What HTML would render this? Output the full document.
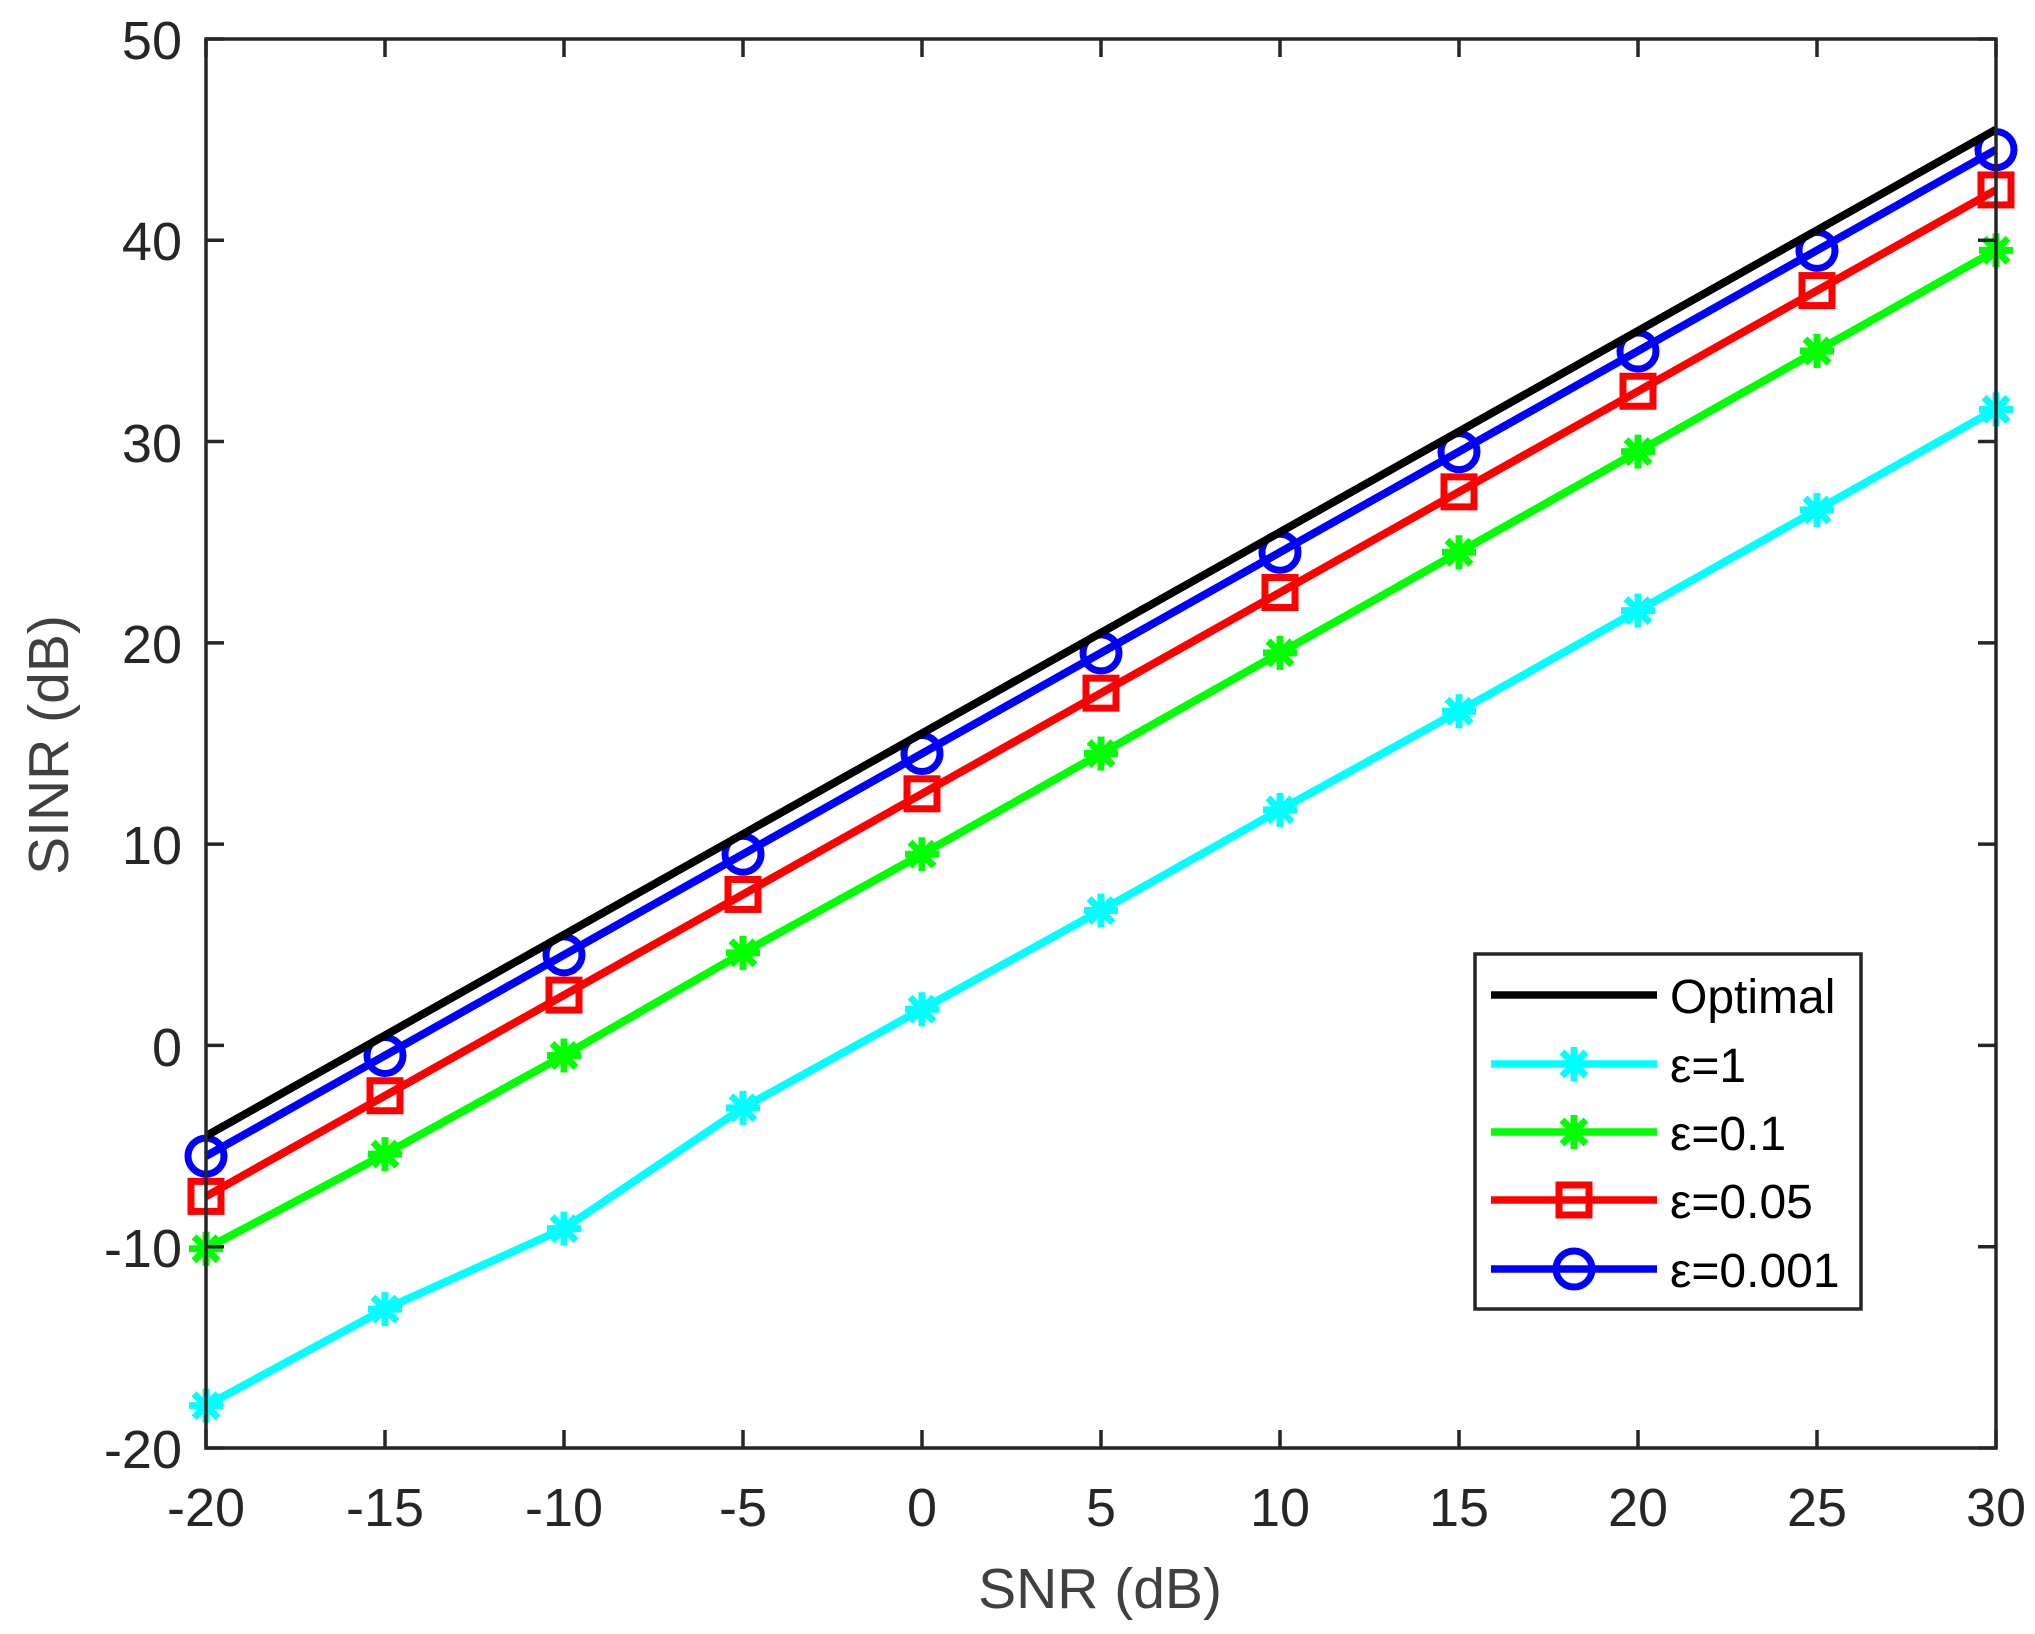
<!DOCTYPE html>
<html><head><meta charset="utf-8"><style>
html,body{margin:0;padding:0;background:#fff;}
svg{display:block;font-family:"Liberation Sans",Arial,sans-serif;}
</style></head><body>
<svg id="s" width="2035" height="1634" xmlns="http://www.w3.org/2000/svg">
<rect width="2035" height="1634" fill="#fff"/>
<g id="plot"></g>
<rect x="206" y="39" width="1790" height="1409" fill="none" stroke="#262626" stroke-width="3.5"/>
<g id="ticks" stroke="#262626" stroke-width="3.5"></g>
<g fill="#262626" font-size="54" text-anchor="end">
<text x="182" y="59">50</text><text x="182" y="260">40</text><text x="182" y="462">30</text><text x="182" y="663">20</text><text x="182" y="864">10</text><text x="182" y="1066">0</text><text x="182" y="1267">-10</text><text x="182" y="1468">-20</text>
</g>
<g fill="#262626" font-size="54" text-anchor="middle">
<text x="206" y="1526">-20</text><text x="385" y="1526">-15</text><text x="564" y="1526">-10</text><text x="743" y="1526">-5</text><text x="922" y="1526">0</text><text x="1101" y="1526">5</text><text x="1280" y="1526">10</text><text x="1459" y="1526">15</text><text x="1638" y="1526">20</text><text x="1817" y="1526">25</text><text x="1996" y="1526">30</text>
</g>
<text x="1100" y="1608" font-size="57" fill="#404040" text-anchor="middle">SNR (dB)</text>
<text transform="translate(68,745) rotate(-90)" font-size="57" fill="#404040" text-anchor="middle">SINR (dB)</text>
<rect x="1475" y="954" width="386" height="355" fill="#fff" stroke="#262626" stroke-width="3.5"/>
<g id="leg"></g>
<g font-size="48" fill="#000">
<text x="1670" y="1013">Optimal</text>
<text x="1670" y="1082">ε=1</text>
<text x="1670" y="1150">ε=0.1</text>
<text x="1670" y="1218">ε=0.05</text>
<text x="1670" y="1287">ε=0.001</text>
</g>
</svg>
<script>
const NS="http://www.w3.org/2000/svg";
const X=v=>206+(v+20)*35.8, Y=v=>1448-(v+20)*20.129;
function el(p,t,a){const e=document.createElementNS(NS,t);for(const k in a)e.setAttribute(k,a[k]);p.appendChild(e);return e;}
const tk=document.getElementById('ticks');
for(let v=-20;v<=30;v+=5){const x=X(v);el(tk,'line',{x1:x,y1:1448,x2:x,y2:1430});el(tk,'line',{x1:x,y1:39,x2:x,y2:57});}
for(let v=-20;v<=50;v+=10){const y=Y(v);el(tk,'line',{x1:206,y1:y,x2:224,y2:y});el(tk,'line',{x1:1996,y1:y,x2:1978,y2:y});}
function marker(g,type,x,y,c){
 if(type==='*'){const r=17,d=12;
  [[0,-r,0,r],[-r,0,r,0],[-d,-d,d,d],[-d,d,d,-d]].forEach(l=>el(g,'line',{x1:x+l[0],y1:y+l[1],x2:x+l[2],y2:y+l[3],stroke:c,'stroke-width':7}));}
 else if(type==='s'){el(g,'rect',{x:x-15,y:y-15,width:30,height:30,fill:'none',stroke:c,'stroke-width':7});}
 else if(type==='o'){el(g,'circle',{cx:x,cy:y,r:18,fill:'none',stroke:c,'stroke-width':7});}
}
const xs=[-20,-15,-10,-5,0,5,10,15,20,25,30];
const series=[
 {c:'#000',m:null,y:xs.map(v=>v+15.5)},
 {c:'#00FFFF',m:'*',y:[-17.9,-13.1,-9.1,-3.1,1.8,6.7,11.7,16.6,21.6,26.6,31.6]},
 {c:'#00FF00',m:'*',y:[-10.1,-5.4,-0.5,4.6,9.5,14.5,19.5,24.5,29.5,34.5,39.5]},
 {c:'#FF0000',m:'s',y:xs.map(v=>v+12.5)},
 {c:'#0000FF',m:'o',y:xs.map(v=>v+14.5)}
];
const plot=document.getElementById('plot');
series.slice().reverse().forEach(s=>{
 el(plot,'polyline',{points:xs.map((v,i)=>X(v)+','+Y(s.y[i])).join(' '),fill:'none',stroke:s.c,'stroke-width':8,'stroke-linejoin':'round'});
 if(s.m)xs.forEach((v,i)=>marker(plot,s.m,X(v),Y(s.y[i]),s.c));
});
const leg=document.getElementById('leg');
const ly=[995,1064,1132,1200,1269];
series.forEach((s,i)=>{el(leg,'line',{x1:1491,y1:ly[i],x2:1657,y2:ly[i],stroke:s.c,'stroke-width':7.5});if(s.m)marker(leg,s.m,1574,ly[i],s.c);});
</script>
</body></html>
